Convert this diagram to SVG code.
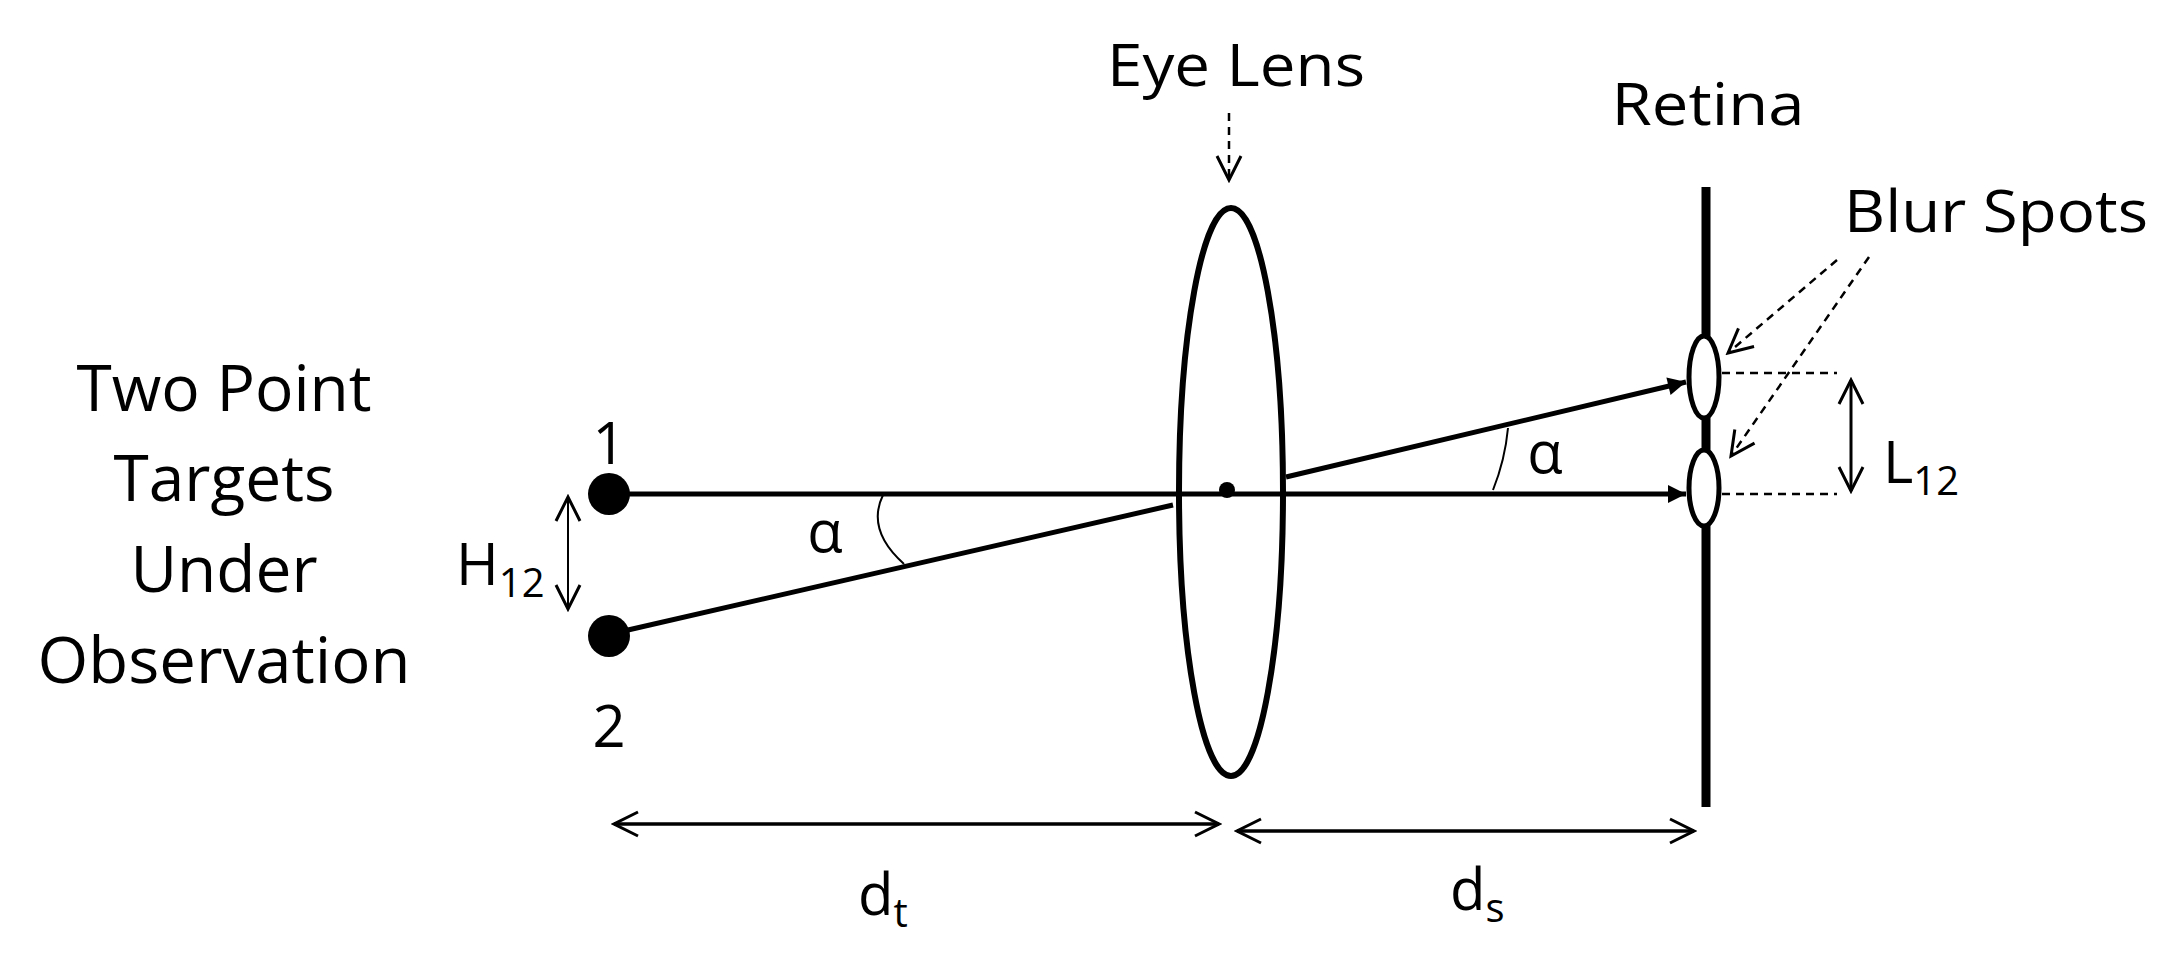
<svg xmlns="http://www.w3.org/2000/svg" width="2171" height="958" viewBox="0 0 2171 958">
<style>
text{font-family:"Open Sans","Liberation Sans",sans-serif;fill:#000}
.t{font-size:64px}
.m{font-size:58px}
.s{font-size:40px}
.ln{stroke:#000;fill:none}
</style>
<defs>
<marker id="tri" viewBox="0 0 10 10" refX="10" refY="5" markerWidth="24" markerHeight="18" markerUnits="userSpaceOnUse" orient="auto"><path d="M0,0L10,5L0,10z" fill="#000"/></marker>
<marker id="open" viewBox="0 0 10 10" refX="9" refY="5" markerWidth="30" markerHeight="30" markerUnits="userSpaceOnUse" orient="auto-start-reverse"><path d="M1,1L9,5L1,9" fill="none" stroke="#000" stroke-width="1"/></marker>
</defs>
<rect width="2171" height="958" fill="#fff"/>
<g id="targets">
<circle cx="609" cy="494" r="21"/>
<circle cx="609" cy="636" r="21"/>
<text class="m" x="609" y="464" text-anchor="middle">1</text>
<text class="m" x="609" y="747" text-anchor="middle">2</text>
<text class="t" x="224" y="411" text-anchor="middle">Two Point</text>
<text class="t" x="224" y="501" text-anchor="middle">Targets</text>
<text class="t" x="224" y="592" text-anchor="middle">Under</text>
<text class="t" x="224" y="683" text-anchor="middle" textLength="373" lengthAdjust="spacingAndGlyphs">Observation</text>
</g>
<g id="lens">
<ellipse class="ln" cx="1231" cy="492" rx="52" ry="284" stroke-width="6"/>
<circle cx="1227" cy="490" r="8"/>
<text class="m" x="1236" y="86" text-anchor="middle" textLength="258" lengthAdjust="spacingAndGlyphs">Eye Lens</text>
</g>
<g id="retina">
<line class="ln" x1="1706" y1="187" x2="1706" y2="807" stroke-width="9"/>
<ellipse cx="1704" cy="377" rx="15" ry="41" fill="#fff" stroke="#000" stroke-width="5"/>
<ellipse cx="1704" cy="488" rx="15" ry="38" fill="#fff" stroke="#000" stroke-width="5"/>
<text class="m" x="1708" y="125" text-anchor="middle" textLength="193" lengthAdjust="spacingAndGlyphs">Retina</text>
<text class="m" x="1996" y="232" text-anchor="middle" textLength="304" lengthAdjust="spacingAndGlyphs">Blur Spots</text>
</g>
<g id="connectors">
<line class="ln" x1="628" y1="494" x2="1686" y2="494" stroke-width="5" marker-end="url(#tri)"/>
<line class="ln" x1="628" y1="630" x2="1173" y2="505" stroke-width="5"/>
<line class="ln" x1="1286" y1="477" x2="1686" y2="382" stroke-width="5" marker-end="url(#tri)"/>
<path class="ln" d="M883,495 Q866,530 904,564" stroke-width="2"/>
<text class="m" x="825" y="552" text-anchor="middle">α</text>
<path class="ln" d="M1493,490 Q1505,460 1508,428" stroke-width="2"/>
<text class="m" x="1545" y="473" text-anchor="middle">α</text>
<line class="ln" x1="568" y1="497" x2="568" y2="609" stroke-width="2" marker-start="url(#open)" marker-end="url(#open)"/>
<text class="m" x="456" y="585">H<tspan class="s" dy="12">12</tspan></text>
<line class="ln" x1="1851" y1="380" x2="1851" y2="491" stroke-width="3" marker-start="url(#open)" marker-end="url(#open)"/>
<text class="m" x="1883" y="483">L<tspan class="s" dy="12">12</tspan></text>
<line class="ln" x1="1722" y1="373" x2="1837" y2="373" stroke-width="2.5" stroke-dasharray="8,6"/>
<line class="ln" x1="1722" y1="494" x2="1837" y2="494" stroke-width="2.5" stroke-dasharray="8,6"/>
<line class="ln" x1="1229" y1="113" x2="1229" y2="180" stroke-width="2.5" stroke-dasharray="8,6" marker-end="url(#open)"/>
<line class="ln" x1="1837" y1="260" x2="1728" y2="353" stroke-width="2.5" stroke-dasharray="8,6" marker-end="url(#open)"/>
<line class="ln" x1="1869" y1="257" x2="1731" y2="456" stroke-width="2.5" stroke-dasharray="8,6" marker-end="url(#open)"/>
<line class="ln" x1="614" y1="824" x2="1219" y2="824" stroke-width="3.5" marker-start="url(#open)" marker-end="url(#open)"/>
<line class="ln" x1="1237" y1="831" x2="1694" y2="831" stroke-width="3.5" marker-start="url(#open)" marker-end="url(#open)"/>
<text class="m" x="858" y="915">d<tspan class="s" dy="12">t</tspan></text>
<text class="m" x="1450" y="910">d<tspan class="s" dy="12">s</tspan></text>
</g>
</svg>
